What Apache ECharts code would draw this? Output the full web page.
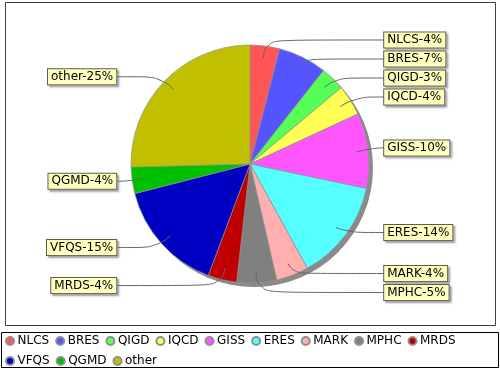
<!DOCTYPE html>
<html>
<head>
<meta charset="utf-8">
<script src="https://cdn.jsdelivr.net/npm/echarts@6/dist/echarts.min.js"></script>
<style>
html,body{margin:0;padding:0;background:#fff;}
#chart{width:500px;height:370px;}
</style>
</head>
<body>
<div id="chart"></div>
<script>
const categories = ['NLCS','BRES','QIGD','IQCD','GISS','ERES','MARK','MPHC','MRDS','VFQS','QGMD','other'];
const values = [4.0, 6.6, 3.3, 4.2, 10.2, 13.7, 4.4, 5.4, 3.9, 15.3, 3.6, 25.4];
const colors = ['#ff5555','#5555ff','#55ff55','#ffff55','#ff55ff','#55ffff','#ffafaf','#808080','#c00000','#0000c0','#00c000','#c0c000'];
const legendRow1 = categories.slice(0, 9);
const legendRow2 = categories.slice(9);

const FONT = 'DejaVu Sans';
const chart = echarts.init(document.getElementById('chart'), null, {renderer: 'canvas'});

const pieData = categories.map((c, i) => ({name: c, value: values[i], itemStyle: {color: colors[i]}}));
const labelData = categories.map((c, i) => ({name: c, value: values[i]}));

const legendCommon = {
  orient: 'horizontal',
  icon: 'circle',
  itemWidth: 8,
  itemHeight: 8,
  itemGap: 6,
  padding: 0,
  selectedMode: false,
  textStyle: {fontFamily: FONT, fontSize: 12, color: '#000', padding: [0, 0, 0, -1.5]}
};

chart.setOption({
  animation: false,
  backgroundColor: '#fff',
  color: colors,
  graphic: [
    {type: 'rect', shape: {x: 5.5, y: 2.5, width: 490, height: 323}, style: {fill: 'none', stroke: '#404040', lineWidth: 1}, z: -10},
    {type: 'rect', shape: {x: 1.5, y: 332.5, width: 497, height: 35}, style: {fill: 'none', stroke: '#000', lineWidth: 1}, z: -10}
  ],
  legend: [
    Object.assign({left: 5, top: 335, data: legendRow1}, legendCommon),
    Object.assign({left: 5, top: 355, data: legendRow2}, legendCommon)
  ],
  series: [
    {
      type: 'pie',
      name: 'shadow',
      silent: true,
      center: [254, 168],
      radius: 119,
      z: 1,
      label: {show: false},
      labelLine: {show: false},
      itemStyle: {color: '#8a8a8a', borderWidth: 0},
      emphasis: {disabled: true},
      data: [{name: '', value: 1}]
    },
    {
      type: 'pie',
      name: 'main',
      center: [250, 164],
      radius: 119,
      startAngle: 90,
      clockwise: true,
      z: 2,
      itemStyle: {borderColor: '#909090', borderWidth: 0.7},
      label: {show: false},
      labelLine: {show: false},
      emphasis: {disabled: true},
      data: pieData
    },
    {
      type: 'pie',
      name: 'labels',
      silent: true,
      left: 0, top: 0, right: 0, bottom: 68,
      center: [250, 164],
      radius: 107,
      startAngle: 90,
      clockwise: true,
      z: 3,
      avoidLabelOverlap: true,
      minShowLabelAngle: 0,
      itemStyle: {color: 'rgba(0,0,0,0)', borderWidth: 0},
      label: {
        show: true,
        position: 'outer',
        alignTo: 'labelLine',
        distanceToLabelLine: 0,
        formatter: p => p.name + '-' + Math.round(p.percent) + '%',
        fontFamily: FONT,
        fontSize: 12,
        color: '#000',
        lineHeight: 13,
        backgroundColor: '#ffffc0',
        borderColor: '#606040',
        borderWidth: 1,
        padding: [1, 3, 1, 3],
        shadowColor: 'rgba(120,120,120,0.6)',
        shadowBlur: 2,
        shadowOffsetX: 2,
        shadowOffsetY: 2
      },
      labelLine: {
        show: true,
        length: 18,
        length2: 10,
        smooth: 0.5,
        lineStyle: {color: '#666', width: 1}
      },
      emphasis: {disabled: true},
      data: labelData
    }
  ]
});
</script>
</body>
</html>
